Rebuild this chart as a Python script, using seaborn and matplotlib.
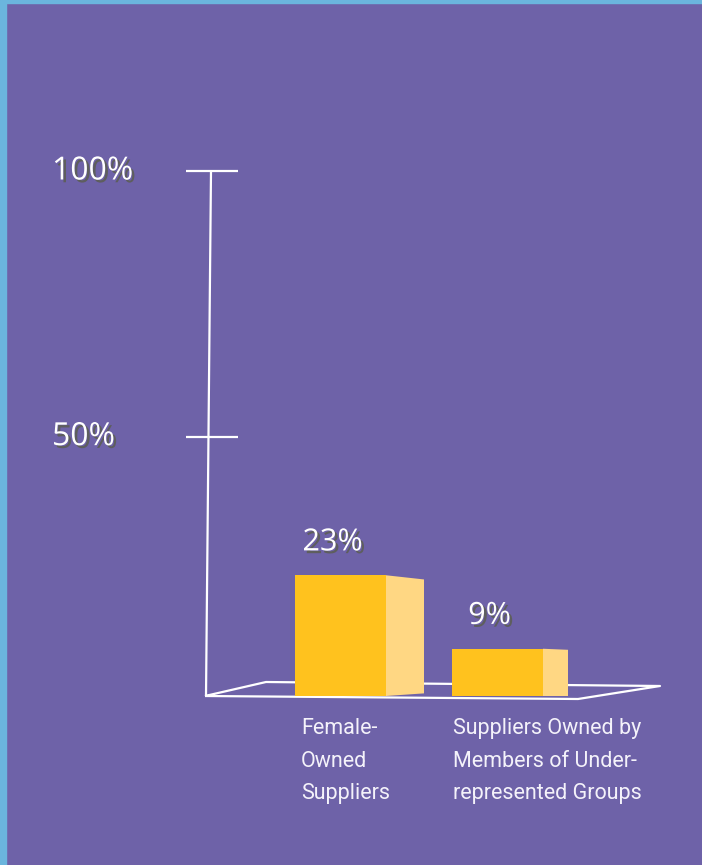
import matplotlib.pyplot as plt
import matplotlib.patheffects as pe
from matplotlib.patches import Polygon, Rectangle
import pandas as pd
import seaborn as sns

# chart data
categories = ["Female-\nOwned\nSuppliers",
              "Suppliers Owned by\nMembers of Under-\nrepresented Groups"]
values = [23, 9]
value_labels = ["23%", "9%"]
tick_values = [100, 50]
tick_labels = ["100%", "50%"]

W, H = 702, 865
BG = "#6E62A8"
BORDER = "#6BB5DD"
FRONT = "#FFC21E"
SIDE = "#FFD783"

# pixel layout helpers (x: bar centres 157 px apart, y: 5.25 px per percent)
X0, XS = 340.5, 157.0
Y0, YS = 696.0, 5.25


def px(x, y):
    return (x - X0) / XS, (Y0 - y) / YS


df = pd.DataFrame({"group": categories, "share": values})

fig = plt.figure(figsize=(W / 100, H / 100), dpi=100)
fig.patch.set_facecolor(BG)
fig.patches.append(Rectangle((0, 0), 6 / W, 1, transform=fig.transFigure,
                             color=BORDER, zorder=10))
fig.patches.append(Rectangle((0, 1 - 3 / H), 1, 3 / H, transform=fig.transFigure,
                             color=BORDER, zorder=10))

ax = fig.add_axes([0, 1 - Y0 / H, 1, 100 * YS / H])
ax.set_facecolor("none")

bar_w = 91 / XS
sns.barplot(data=df, x="group", y="share", color=FRONT, saturation=1,
            width=bar_w, ax=ax, zorder=3, linewidth=0)

# side faces of the "3D" bars
side_depth = [38 / XS, 25 / XS]
top_drop = [0.8, 0.2]
bottom_rise = [0.5, 0.0]
for i, v in enumerate(values):
    xr = i + bar_w / 2
    d = side_depth[i]
    ax.add_patch(Polygon([(xr, 0), (xr, v), (xr + d, v - top_drop[i]),
                          (xr + d, bottom_rise[i])],
                         closed=True, facecolor=SIDE, edgecolor="none", zorder=3))

ax.set_xlim(px(0, 0)[0], px(W, 0)[0])
ax.set_ylim(0, 100)
ax.axis("off")

line_kw = dict(color="white", lw=1.6, solid_capstyle="butt", zorder=2)

# floor parallelogram
floor = [px(205, 696), px(578, 699), px(660, 686), px(266, 682), px(205, 696)]
ax.plot([p[0] for p in floor], [p[1] for p in floor], **line_kw, clip_on=False)

# vertical axis
ax.plot([px(211, 0)[0], px(206, 0)[0]], [100, 0], **line_kw, clip_on=False)

shadow = [pe.withSimplePatchShadow(offset=(2, -2), shadow_rgbFace="#5E5E5E", alpha=1)]

for t, lab in zip(tick_values, tick_labels):
    ax.plot([px(186, 0)[0], px(238, 0)[0]], [t - 0.6 * (t < 100), t - 0.6 * (t < 100)],
            **line_kw, clip_on=False)
    ax.text(px(52, 0)[0], t - 0.6 * (t < 100), lab, ha="left", va="center",
            color="white", fontsize=23, family="Open Sans", path_effects=shadow,
            clip_on=False)

# value labels above bars
for i, (v, lab) in enumerate(zip(values, value_labels)):
    ax.text(i - 8 / XS, v + 3.4, lab, ha="center", va="bottom",
            color="white", fontsize=22, family="Open Sans", path_effects=shadow)

# category labels under bars
for i, cat in enumerate(categories):
    ax.text(i - bar_w / 2 + (6 if i == 0 else 1) / XS, px(0, 718)[1], cat,
            ha="left", va="top", color="#F4F2FA", fontsize=15.5, linespacing=1.72,
            family="Roboto", clip_on=False)

fig.savefig("out.png", dpi=100, facecolor=BG)
